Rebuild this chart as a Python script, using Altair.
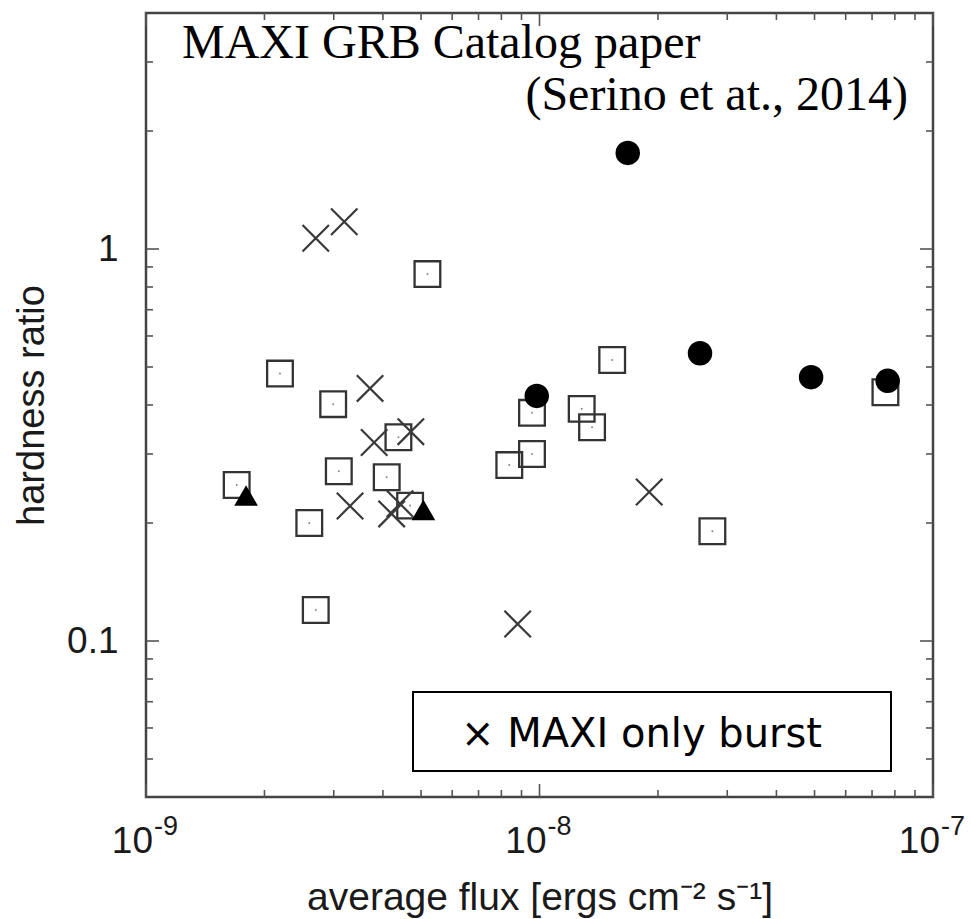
import altair as alt
import pandas as pd

W, H = 787, 784

# open squares
sq_flux = [1.70e-9, 2.19e-9, 2.99e-9, 3.09e-9, 2.60e-9, 2.70e-9, 4.38e-9, 4.09e-9, 4.69e-9,
           8.38e-9, 9.57e-9, 9.57e-9, 1.28e-8, 1.36e-8, 1.53e-8, 2.75e-8, 7.57e-8, 5.19e-9]
sq_hr = [0.250, 0.481, 0.402, 0.271, 0.200, 0.120, 0.331, 0.2616, 0.2215,
         0.281, 0.382, 0.300, 0.391, 0.351, 0.521, 0.1905, 0.431, 0.863]

# MAXI only bursts (crosses)
x_flux = [2.70e-9, 3.19e-9, 3.71e-9, 3.80e-9, 4.71e-9, 3.30e-9, 4.21e-9, 4.42e-9, 8.80e-9, 1.90e-8]
x_hr = [1.065, 1.174, 0.441, 0.321, 0.342, 0.221, 0.211, 0.224, 0.1105, 0.240]

# filled circles
c_flux = [1.676e-8, 9.84e-9, 2.558e-8, 4.90e-8, 7.67e-8]
c_hr = [1.758, 0.422, 0.542, 0.471, 0.461]

# filled triangles
t_flux = [1.796e-9, 5.07e-9]
t_hr = [0.235, 0.216]

# axis ticks / labels
x_major = [1e-9, 1e-8, 1e-7]
x_exp = ["-9", "-8", "-7"]
mantissas = [2, 3, 4, 5, 6, 7, 8, 9]
x_minor = [m * d for d in [1e-9, 1e-8] for m in mantissas]
y_major = [0.1, 1.0]
y_minor = [m * d for d, ms in [(0.01, [5, 6, 7, 8, 9]), (0.1, mantissas), (1.0, [2, 3])] for m in ms]

SANS = "Liberation Sans"
SERIF = "Liberation Serif"

xs = alt.Scale(type="log", domain=[1e-9, 1e-7], nice=False)
ys = alt.Scale(type="log", domain=[0.04, 4], nice=False)

X = alt.X("flux:Q", scale=xs, axis=alt.Axis(
    title="average flux [ergs cm⁻² s⁻¹]", labels=False, ticks=False, domain=False, grid=False,
    titleFont=SANS, titleFontSize=39, titleFontWeight="normal", titleColor="#1a1a1a",
    titleY=112, titleBaseline="alphabetic"))
Y = alt.Y("hr:Q", scale=ys, axis=alt.Axis(
    values=y_major, format="~g", labelFont=SANS, labelFontSize=37, labelColor="#1a1a1a",
    labelPadding=28, ticks=False, domain=False, grid=False,
    title="hardness ratio", titleFont=SANS, titleFontSize=38, titleFontWeight="normal",
    titleColor="#1a1a1a", titleAngle=270, titleX=-103, titleY=H / 2,
    titleAlign="center", titleBaseline="alphabetic"))


def frame(xv, yv):
    return pd.DataFrame({"flux": xv, "hr": yv})


squares = alt.Chart(frame(sq_flux, sq_hr)).mark_point(
    shape="square", size=660, filled=False, stroke="#333", strokeWidth=2.3, opacity=1
).encode(x=X, y=Y)
sq_dots = alt.Chart(frame(sq_flux, sq_hr)).mark_point(
    shape="circle", size=4, filled=True, color="#888", opacity=1
).encode(x=X, y=Y)
crosses = alt.Chart(frame(x_flux, x_hr)).mark_point(
    shape="M-1,-1L1,1M-1,1L1,-1", size=700, filled=False, stroke="#3a3a3a", strokeWidth=2.2, opacity=1
).encode(x=X, y=Y)
tris = alt.Chart(frame(t_flux, t_hr)).mark_point(
    shape="triangle-up", size=560, filled=True, color="#000", opacity=1
).encode(x=X, y=Y)
circles = alt.Chart(frame(c_flux, c_hr)).mark_point(
    shape="circle", size=600, filled=True, color="#000", opacity=1
).encode(x=X, y=Y)

tick_style = dict(color="#555", strokeWidth=1.6)
xmaj = pd.DataFrame({"flux": x_major})
xmin = pd.DataFrame({"flux": x_minor})
ymaj = pd.DataFrame({"hr": y_major})
ymin = pd.DataFrame({"hr": y_minor})

ticks = [
    alt.Chart(xmaj).mark_rule(**tick_style).encode(x=X, y=alt.value(H), y2=alt.value(H - 13)),
    alt.Chart(xmaj).mark_rule(**tick_style).encode(x=X, y=alt.value(0), y2=alt.value(13)),
    alt.Chart(xmin).mark_rule(**tick_style).encode(x=X, y=alt.value(H), y2=alt.value(H - 7)),
    alt.Chart(xmin).mark_rule(**tick_style).encode(x=X, y=alt.value(0), y2=alt.value(7)),
    alt.Chart(ymaj).mark_rule(**tick_style).encode(y=Y, x=alt.value(0), x2=alt.value(13)),
    alt.Chart(ymaj).mark_rule(**tick_style).encode(y=Y, x=alt.value(W), x2=alt.value(W - 13)),
    alt.Chart(ymin).mark_rule(**tick_style).encode(y=Y, x=alt.value(0), x2=alt.value(7)),
    alt.Chart(ymin).mark_rule(**tick_style).encode(y=Y, x=alt.value(W), x2=alt.value(W - 7)),
]

xlab = pd.DataFrame({"flux": x_major, "exp": x_exp, "base": ["10"] * 3})
xlab_base = alt.Chart(xlab).mark_text(
    font=SANS, fontSize=37, color="#1a1a1a", align="right", baseline="alphabetic", dx=7
).encode(x=X, y=alt.value(H + 56), text="base:N")
xlab_exp = alt.Chart(xlab).mark_text(
    font=SANS, fontSize=27, color="#1a1a1a", align="left", baseline="alphabetic", dx=8
).encode(x=X, y=alt.value(H + 38), text="exp:N")

# annotation texts
title1 = alt.Chart(pd.DataFrame({"t": ["MAXI GRB Catalog paper"]})).mark_text(
    font=SERIF, fontSize=48, color="#000", align="left", baseline="alphabetic"
).encode(x=alt.value(36), y=alt.value(45), text="t:N")
title2 = alt.Chart(pd.DataFrame({"t": ["(Serino et at., 2014)"]})).mark_text(
    font=SERIF, fontSize=48, color="#000", align="right", baseline="alphabetic"
).encode(x=alt.value(762), y=alt.value(97), text="t:N")

box = alt.Chart(pd.DataFrame({"a": [0]})).mark_rect(
    fill="white", stroke="#000", strokeWidth=2
).encode(x=alt.value(267), x2=alt.value(745), y=alt.value(679), y2=alt.value(758))
box_text = alt.Chart(pd.DataFrame({"t": ["× MAXI only burst"]})).mark_text(
    font="DejaVu Sans", fontSize=40, color="#000", align="left", baseline="alphabetic"
).encode(x=alt.value(315), y=alt.value(734), text="t:N")

chart = alt.layer(
    squares, sq_dots, crosses, tris, circles, *ticks, xlab_base, xlab_exp,
    title1, title2, box, box_text
).properties(
    width=W, height=H,
    autosize=alt.AutoSizeParams(type="none"),
    padding={"left": 146, "top": 13, "right": 38, "bottom": 122},
    background="white",
).configure_view(stroke="#444", strokeWidth=2.5)

chart.save("out.html", embed_options={"renderer": "svg", "actions": False})
